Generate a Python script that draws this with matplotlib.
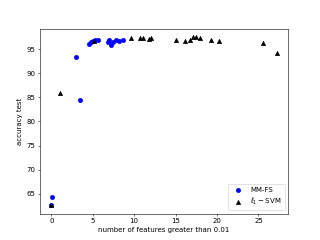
import numpy as np
import matplotlib
matplotlib.use("Agg")
import matplotlib.pyplot as plt

# MM-FS results
mmfs_nfeat = [0.0, 0.1, 3.0, 3.5, 4.6, 4.8, 5.0, 5.3, 5.6, 6.8, 7.0, 7.2, 7.5, 7.8, 8.2, 8.6]
mmfs_acc = [62.7, 64.3, 93.4, 84.4, 96.1, 96.4, 96.7, 96.9, 96.9, 96.6, 96.9, 95.8, 96.5, 97.0, 96.8, 96.9]

# l1-SVM results
svm_nfeat = [0.0, 1.1, 5.2, 9.6, 10.7, 11.1, 11.8, 12.0, 15.1, 16.1, 16.7, 17.1, 17.5, 17.9, 19.3, 20.2, 25.5, 27.2]
svm_acc = [62.6, 86.0, 96.8, 97.3, 97.4, 97.4, 97.2, 97.4, 97.0, 96.7, 97.0, 97.5, 97.5, 97.3, 96.9, 96.7, 96.2, 94.3]

plt.figure(figsize=(6.4, 4.8), dpi=50)
plt.scatter(mmfs_nfeat, mmfs_acc, color='blue', marker='o', label='MM-FS')
plt.scatter(svm_nfeat, svm_acc, color='black', marker='^', label=r'$\ell_1 - \mathrm{SVM}$')
plt.xlabel('number of features greater than 0.01')
plt.ylabel('accuracy test')
plt.legend(loc='lower right')

plt.savefig("out.png", dpi=50)
